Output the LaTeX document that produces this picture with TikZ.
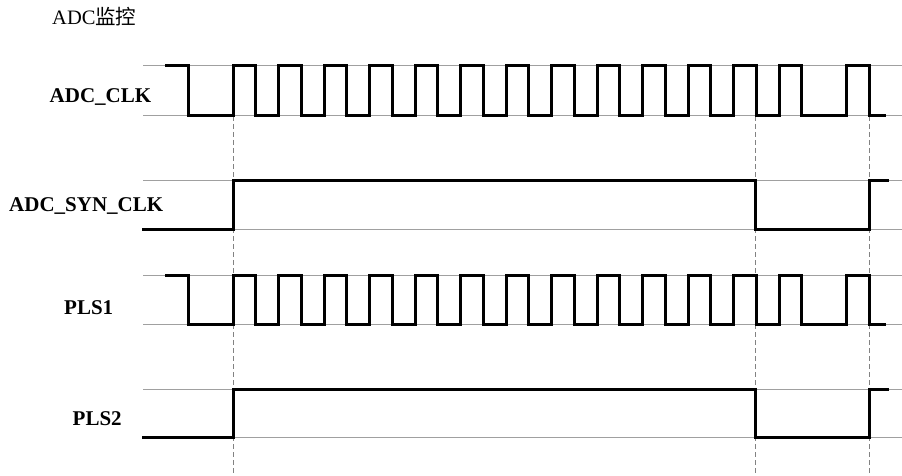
\documentclass[tikz,border=0pt]{standalone}
\usepackage{fontspec}
\setmainfont{Liberation Serif}
\newfontfamily\cjkfont{Noto Sans CJK SC}
\definecolor{guide}{RGB}{160,160,160}
\definecolor{dashc}{RGB}{130,130,130}
\tikzset{
  sig/.style={line width=3pt, black, line join=miter},
  guideline/.style={line width=1pt, guide},
  marker/.style={line width=1pt, dashc, dash pattern=on 5pt off 3pt},
  lbl/.style={anchor=base west, inner sep=0pt, font=\fontsize{21}{25}\selectfont\bfseries},
  ttl/.style={anchor=base west, inner sep=0pt, font=\fontsize{20.5}{25}\selectfont}
}
\begin{document}
\begin{tikzpicture}[x=1pt,y=-1pt]
\useasboundingbox (0,0) rectangle (902,476);
% row levels
\def\ah{65.5}\def\al{115.7}
\def\sh{180}\def\sl{229.3}
\def\ph{275}\def\pl{324}
\def\qh{389}\def\ql{437.7}
% guide lines
\foreach \yy in {\ah,\al,\sh,\sl,\ph,\pl,\qh,\ql}
  \draw[guideline] (143,\yy) -- (902,\yy);
% dashed markers
\foreach \xx in {233,755.7,869}
  \draw[marker] (\xx,116) -- (\xx,476);
% title
\node[ttl] (title) at (52,25) {ADC{\cjkfont 监控}};
% labels
\node[lbl] (lclk) at (49.5,102.7) {ADC\_CLK};
\node[lbl] (lsyn) at (9,211.7) {ADC\_SYN\_CLK};
\node[lbl] (lpls1) at (64,314) {PLS1};
\node[lbl] (lpls2) at (72.5,425) {PLS2};
% clock-like waveforms
\foreach \hi/\lo in {\ah/\al,\ph/\pl}{
  \draw[sig] (165,\hi) -- (188,\hi) -- (188,\lo) -- (233,\lo)
    \foreach \k in {0,...,12}{
      -- ({233+45.5*\k},\lo) -- ({233+45.5*\k},\hi) -- ({255.7+45.5*\k},\hi) -- ({255.7+45.5*\k},\lo)
    }
    -- (846.5,\lo) -- (846.5,\hi) -- (869,\hi) -- (869,\lo) -- (886,\lo);
}
% sync-like waveforms
\foreach \hi/\lo in {\sh/\sl,\qh/\ql}{
  \draw[sig] (142,\lo) -- (233,\lo) -- (233,\hi) -- (755.7,\hi) -- (755.7,\lo)
    -- (869,\lo) -- (869,\hi) -- (889,\hi);
}
\end{tikzpicture}
\end{document}
